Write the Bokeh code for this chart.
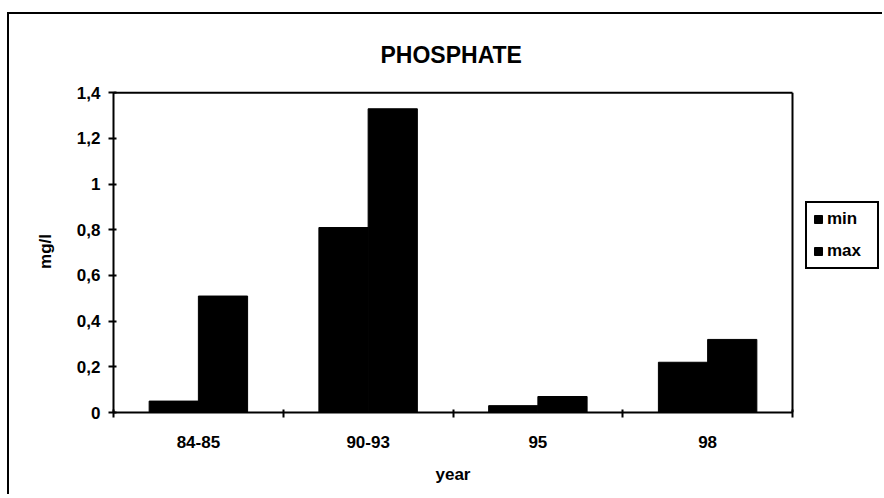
from bokeh.plotting import figure
from bokeh.models import Range1d, FixedTicker, Legend, LegendItem, Title
from bokeh.embed import file_html
from bokeh.resources import INLINE

categories = ["84-85", "90-93", "95", "98"]
min_values = [0.05, 0.81, 0.03, 0.22]
max_values = [0.51, 1.33, 0.07, 0.32]
y_ticks = [0, 0.2, 0.4, 0.6, 0.8, 1.0, 1.2, 1.4]
y_tick_labels = ["0", "0,2", "0,4", "0,6", "0,8", "1", "1,2", "1,4"]

FONT = "Liberation Sans"
FS = "17px"
bar_w = 0.29
n = len(categories)
y_max = y_ticks[-1]
centers = [i + 0.5 for i in range(n)]

p = figure(width=875, height=482, output_backend="svg", toolbar_location=None,
           x_range=Range1d(0, n * 769 / 679), y_range=Range1d(0, y_max + 0.01),
           min_border_left=104, min_border_right=2, min_border_top=76, min_border_bottom=84)
p.styles = {"border-top": "2px solid black", "border-left": "2px solid black",
            "margin-top": "12px", "margin-left": "7px"}

r_min = p.vbar(x=[c - bar_w / 2 for c in centers], top=min_values, width=bar_w,
               fill_color="black", line_color="black")
r_max = p.vbar(x=[c + bar_w / 2 for c in centers], top=max_values, width=bar_w,
               fill_color="black", line_color="black")

# plot-area border (top and right)
p.segment(x0=[0, n], y0=[y_max, 0], x1=[n, n], y1=[y_max, y_max],
          line_color="black", line_width=2)

p.grid.visible = False
p.outline_line_color = None

p.title.text = "PHOSPHATE"
p.title.align = "left"
p.title.offset = 267
p.title.text_font = FONT
p.title.text_font_size = "23px"
p.title.text_font_style = "bold"
p.title.text_color = "black"
p.title.standoff = 46

xa = p.xaxis[0]
xa.bounds = (0, n)
xa.ticker = FixedTicker(ticks=centers, minor_ticks=list(range(n + 1)))
xa.major_label_overrides = {c: lab for c, lab in zip(centers, categories)}
xa.major_tick_in = 0
xa.major_tick_out = 0
xa.minor_tick_in = 3
xa.minor_tick_out = 5
xa.minor_tick_line_color = "black"
xa.minor_tick_line_width = 2
xa.axis_line_width = 2
xa.axis_line_color = "black"
xa.major_label_text_font = FONT
xa.major_label_text_font_style = "bold"
xa.major_label_text_font_size = FS
xa.major_label_text_color = "black"
xa.major_label_standoff = 18

year_title = Title(text="year", align="left", offset=322, text_font=FONT,
                   text_font_size=FS, text_font_style="bold", text_color="black",
                   standoff=25)
p.add_layout(year_title, "below")

ya = p.yaxis[0]
ya.bounds = (0, y_max)
ya.ticker = FixedTicker(ticks=y_ticks, minor_ticks=[])
ya.major_label_overrides = {t: lab for t, lab in zip(y_ticks, y_tick_labels)}
ya.major_tick_in = 3
ya.major_tick_out = 5
ya.major_tick_line_width = 2
ya.axis_line_width = 2
ya.axis_line_color = "black"
ya.major_label_text_font = FONT
ya.major_label_text_font_style = "bold"
ya.major_label_text_font_size = FS
ya.major_label_text_color = "black"
ya.major_label_standoff = 8
ya.axis_label = "mg/l"
ya.axis_label_text_font = FONT
ya.axis_label_text_font_style = "bold"
ya.axis_label_text_font_size = FS
ya.axis_label_text_color = "black"
ya.axis_label_standoff = 19

legend = Legend(items=[LegendItem(label="min", renderers=[r_min]),
                       LegendItem(label="max", renderers=[r_max])],
                location=(692, 143), orientation="vertical")
legend.border_line_color = "black"
legend.border_line_alpha = 1
legend.border_line_width = 2
legend.label_text_font = FONT
legend.label_text_font_style = "bold"
legend.label_text_font_size = FS
legend.label_text_color = "black"
legend.glyph_width = 10
legend.glyph_height = 10
legend.label_width = 44
legend.label_height = 20
legend.padding = 6
legend.spacing = 12
legend.margin = 0
legend.label_standoff = 4
legend.background_fill_alpha = 1
p.add_layout(legend, "center")

open("out.html", "w").write(file_html(p, INLINE))
